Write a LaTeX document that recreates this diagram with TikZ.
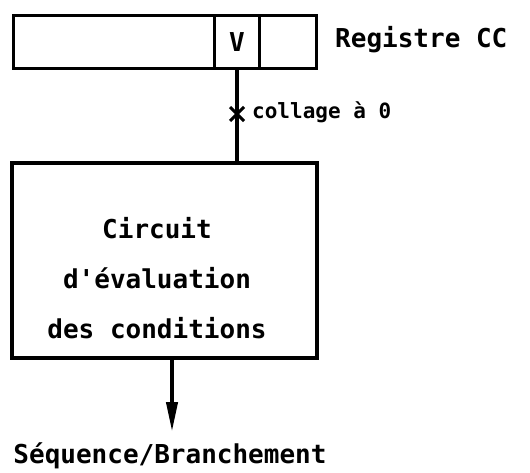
\documentclass[tikz,border=0pt]{standalone}
\usepackage{fontspec}
\setmonofont{DejaVu Sans Mono}
\usetikzlibrary{arrows.meta,positioning}

\begin{document}
\begin{tikzpicture}[
                x=1pt, y=-1pt,
                every node/.style={font=\ttfamily\bfseries\fontsize{26}{50}\selectfont, inner sep=0pt},
                cell/.style={draw, line width=3pt, minimum height=53pt, anchor=north west},
                cbox/.style={draw, line width=3.2pt, minimum width=305pt, minimum height=195pt},
                wire/.style={line width=4pt},
                small/.style={font=\ttfamily\bfseries\fontsize{21}{24}\selectfont}
            ]
            \useasboundingbox (0,0) rectangle (530,473);

            % registre CC
            \node[cell, minimum width=201pt] (reg) at (12,14) {};
            \node[cell, minimum width=45pt] (regV) at (213,14) {V};
            \node[cell, minimum width=57pt] (regC) at (258,14) {};
            \node[anchor=west] (regname) at (335,40) {Registre CC};

            % circuit
            \node[cbox] (eval) at (164.5,260.5) {};
            \node[align=center] (evaltxt) at (157,278) {Circuit\\d'évaluation\\des conditions};

            \draw[wire] (regV.south) -- (regV.south |- eval.north);
            \coordinate (stuck) at (237,114);
            \draw[line width=3pt] ([shift={(-7,-7)}]stuck) -- ([shift={(7,7)}]stuck)
                                  ([shift={(-7,7)}]stuck) -- ([shift={(7,-7)}]stuck);
            \node[small, anchor=west] (stucktxt) at (252,112) {collage à 0};

            % sortie
            \coordinate (out) at (172,432);
            \draw[wire, -{Triangle[length=30pt,width=11pt]}] (eval.south -| out) -- (out);
            \node (outtxt) at (170,456) {Séquence/Branchement};

        \end{tikzpicture}
\end{document}
